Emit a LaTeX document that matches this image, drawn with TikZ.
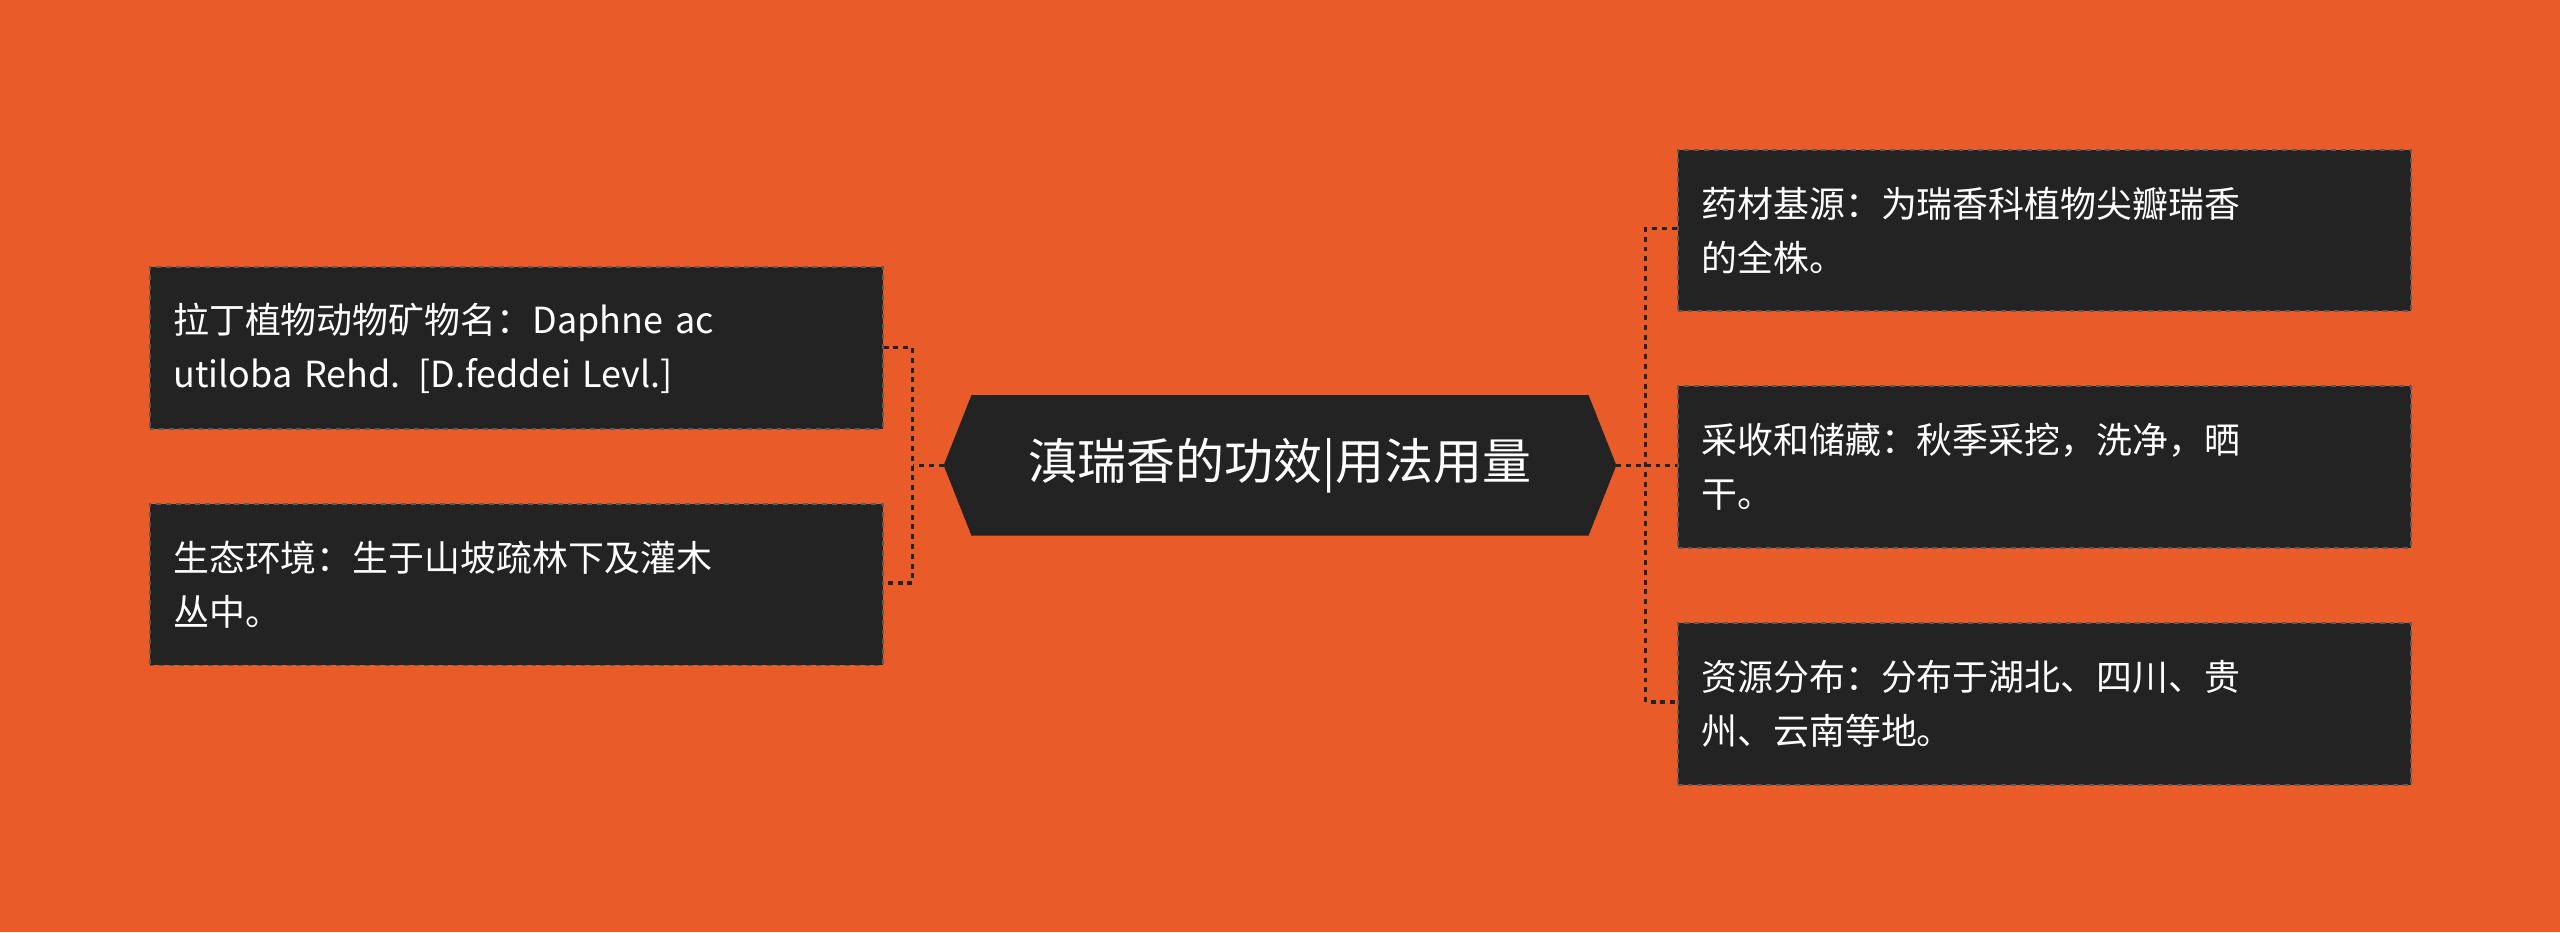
\documentclass[tikz,border=0pt]{standalone}
\usepackage{fontspec}
\setmainfont{Noto Sans CJK SC}
\definecolor{bg}{HTML}{E95B28}
\definecolor{box}{HTML}{232323}
\definecolor{edge}{HTML}{5A5A5A}
\begin{document}
\begin{tikzpicture}[x=1pt,y=-1pt,
  leaf/.style={draw=edge,dashed,line width=1.2pt,fill=box,text=white,anchor=north west,minimum width=449pt,minimum height=99pt,align=left,text width=420pt,inner xsep=13pt,font=\fontsize{22}{33}\selectfont},
  conn/.style={draw=box,dashed,line width=2pt}]
\fill[bg] (0,0) rectangle (1568,571);
\useasboundingbox (0,0) rectangle (1568,571);
\fill[box] (578,285)--(595,242)--(973,242)--(990,285)--(973,328)--(595,328)--cycle;
\node[text=white,font=\fontsize{30}{36}\selectfont] (c) at (784,285) {滇瑞香的功效|用法用量};
\coordinate (cl) at (578,285); \coordinate (cr) at (990,285);
\node[leaf] (l1) at (91,163) {拉丁植物动物矿物名：Daphne ac\\utiloba Rehd. [D.feddei Levl.]};
\node[leaf] (l2) at (91,308) {生态环境：生于山坡疏林下及灌木\\丛中。};
\node[leaf] (r1) at (1027,91) {药材基源：为瑞香科植物尖瓣瑞香\\的全株。};
\node[leaf] (r2) at (1027,236) {采收和储藏：秋季采挖，洗净，晒\\干。};
\node[leaf] (r3) at (1027,381) {资源分布：分布于湖北、四川、贵\\州、云南等地。};
\draw[conn] (cl) -- (559,285);
\draw[conn] (l1.east |- 0,213) -- (559,213) -- (559,357) -- (l2.east |- 0,357);
\draw[conn] (cr) -- (1008,285);
\draw[conn] (r1.west |- 0,140) -- (1008,140) -- (1008,430) -- (r3.west |- 0,430);
\draw[conn] (1008,285) -- (r2.west |- 0,285);
\end{tikzpicture}
\end{document}
